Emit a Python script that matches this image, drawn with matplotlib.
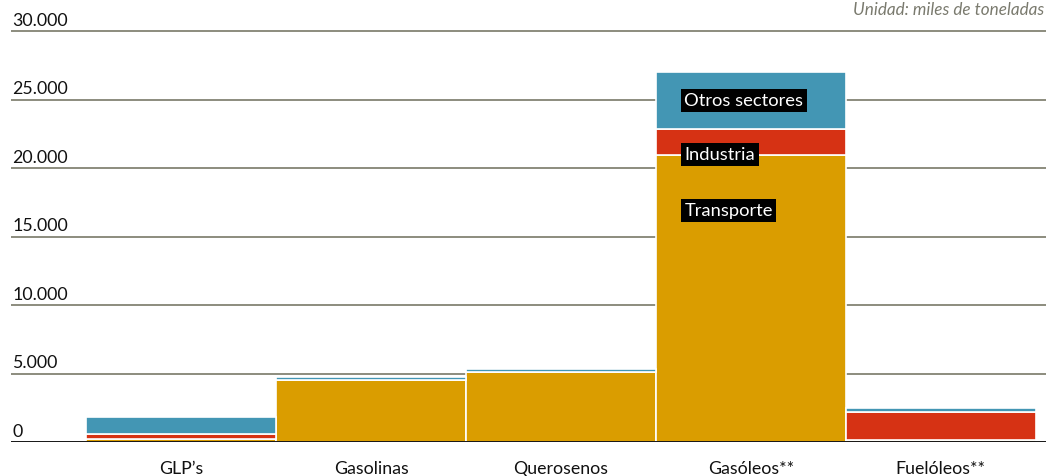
import matplotlib
matplotlib.use("Agg")
import matplotlib.pyplot as plt
import matplotlib.transforms as mtransforms

plt.rcParams['font.family'] = ['Lato', 'DejaVu Sans']

# datos (miles de toneladas)
productos = ["GLP’s", "Gasolinas", "Querosenos", "Gasóleos**", "Fuelóleos**"]
transporte = [220, 4530, 5090, 20950, 180]
industria = [360, 20, 20, 1900, 2000]
otros_sectores = [1250, 230, 220, 4150, 300]

sectores = ["Transporte", "Industria", "Otros sectores"]
colores = ["#DA9D00", "#D63214", "#4396B4"]

yticks = [0, 5000, 10000, 15000, 20000, 25000, 30000]
ytick_labels = ["0", "5.000", "10.000", "15.000", "20.000", "25.000", "30.000"]

W, H = 1046, 477
fig = plt.figure(figsize=(W / 100, H / 100), dpi=100)

y0_px, y30_px = 443, 32
ymax = 31000
px_per_unit = (y0_px - y30_px) / 30000
ax_bottom = (H - y0_px) / H
ax_height = ymax * px_per_unit / H
ax = fig.add_axes([11 / W, ax_bottom, 1 - 11 / W, ax_height])

ax.set_xlim(-0.897, 4.555)
ax.set_ylim(0, ymax)

# líneas de referencia
for v in yticks[1:]:
    ax.axhline(v, color="#8c8c7e", linewidth=1.4, zorder=0)
ax.axhline(0, color="black", linewidth=2, zorder=5)

x = list(range(len(productos)))
bottom = [0] * len(productos)
for serie, nombre, c in zip([transporte, industria, otros_sectores], sectores, colores):
    ax.bar(x, serie, width=1.0, bottom=bottom, color=c, edgecolor="white",
           linewidth=1.2, label=nombre, zorder=2)
    bottom = [b + s for b, s in zip(bottom, serie)]

# etiquetas del eje y sobre las líneas
trans = mtransforms.blended_transform_factory(ax.transAxes, ax.transData)
for v, lab in zip(yticks, ytick_labels):
    ax.text(0.001, v + 250, lab, transform=trans, ha="left", va="bottom",
            fontsize=12.8, color="#111111")

# etiquetas de sectores en la barra de gasóleos
etiquetas_y = [16900, 21000, 24950]
for nombre, yy in zip(sectores, etiquetas_y):
    ax.text(2.65, yy, nombre, ha="left", va="center", fontsize=13.2, color="white",
            bbox=dict(facecolor="black", edgecolor="none", pad=2.5), zorder=6)

ax.set_xticks(x)
ax.set_xticklabels(productos, fontsize=12.8, color="#111111")
ax.tick_params(axis="x", length=0, pad=13)
ax.set_yticks([])
for s in ax.spines.values():
    s.set_visible(False)

fig.text(1 - 2 / W, 1 - 10 / H, "Unidad: miles de toneladas", ha="right", va="center",
         fontsize=12.3, style="italic", color="#7a7a6e")

fig.savefig("out.png", dpi=100)
